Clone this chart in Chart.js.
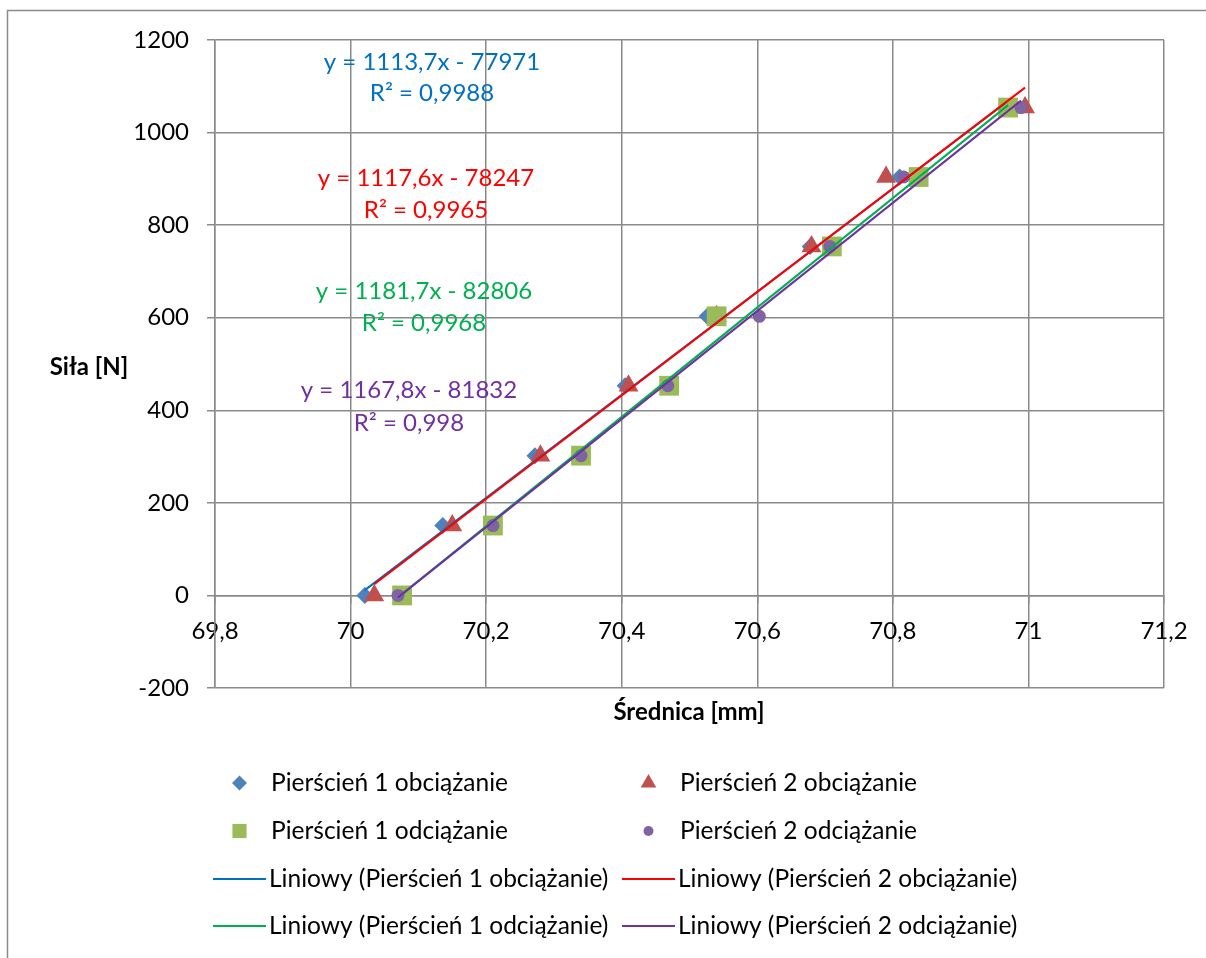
<!DOCTYPE html>
<html>
<head>
<meta charset="utf-8">
<script src="https://cdn.jsdelivr.net/npm/chart.js@4/dist/chart.umd.min.js"></script>
<style>
html,body{margin:0;padding:0;background:#fff;}
#wrap{width:1206px;height:958px;position:relative;}
canvas{display:block;}
</style>
</head>
<body>
<div id="wrap"><canvas id="c" width="1206" height="958"></canvas></div>
<script>
// ---- data ----
const forces = [0, 151, 302, 453, 603, 754, 904, 1054];
const ring1Load   = [70.021, 70.136, 70.272, 70.405, 70.526, 70.678, 70.810, 70.968];
const ring2Load   = [70.035, 70.150, 70.280, 70.410, 70.540, 70.680, 70.790, 70.995];
const ring1Unload = [70.076, 70.210, 70.340, 70.470, 70.540, 70.710, 70.838, 70.970];
const ring2Unload = [70.070, 70.210, 70.340, 70.468, 70.603, 70.707, 70.816, 70.989];
const seriesNames = ['Pierścień 1 obciążanie', 'Pierścień 2 obciążanie', 'Pierścień 1 odciążanie', 'Pierścień 2 odciążanie'];
const trendSlopes = [1113.7, 1117.6, 1181.7, 1167.8];
const trendIntercepts = [-77971, -78247, -82806, -81832];
const trendR2 = ['0,9988', '0,9965', '0,9968', '0,998'];
const xTickLabels = ['69,8', '70', '70,2', '70,4', '70,6', '70,8', '71', '71,2'];
const yTickLabels = ['-200', '0', '200', '400', '600', '800', '1000', '1200'];
const xTitle = 'Średnica [mm]';
const yTitle = 'Siła [N]';

// ---- styles ----
const FONT = 'Lato, "Open Sans", sans-serif';
const FS = 24;
const LEG_FS = 24.5;
const GRID = '#8a8a8a';
const markerColors = ['#4F81BD', '#C0504D', '#9BBB59', '#8064A2'];
const markerStyles = ['rectRot', 'triangle', 'rect', 'circle'];
const markerRadii = [8.5, 11.5, 14, 6.5];
const trendColors = ['#0070C0', '#FF0000', '#00B050', '#7030A0'];
const eqPos = [[432, 62, 93], [426, 178, 210], [424, 291, 323], [409, 390, 423]];

const seriesX = [ring1Load, ring2Load, ring1Unload, ring2Unload];

const datasets = [];
seriesX.forEach((xs, i) => {
  datasets.push({
    type: 'scatter',
    label: seriesNames[i],
    data: xs.map((x, k) => ({x: x, y: forces[k]})),
    pointStyle: markerStyles[i],
    pointRadius: markerRadii[i],
    backgroundColor: markerColors[i],
    borderColor: markerColors[i],
    borderWidth: 0,
    order: 8 - i
  });
});
seriesX.forEach((xs, i) => {
  const xmin = Math.min(...xs), xmax = Math.max(...xs);
  datasets.push({
    type: 'scatter',
    label: 'Liniowy (' + seriesNames[i] + ')',
    data: [xmin, xmax].map(x => ({x: x, y: trendSlopes[i] * x + trendIntercepts[i]})),
    showLine: true,
    pointRadius: 0,
    borderColor: trendColors[i],
    backgroundColor: trendColors[i],
    borderWidth: 2,
    order: 4 - i
  });
});

function fmt(n) { return n.toFixed(1).replace('.', ','); }

function drawMarker(ctx, style, x, y, r, color) {
  ctx.save();
  ctx.fillStyle = color;
  ctx.beginPath();
  if (style === 'rectRot') {
    ctx.moveTo(x, y - r); ctx.lineTo(x + r, y); ctx.lineTo(x, y + r); ctx.lineTo(x - r, y);
  } else if (style === 'triangle') {
    const h = r * 0.866;
    ctx.moveTo(x, y - r); ctx.lineTo(x + h, y + r / 2); ctx.lineTo(x - h, y + r / 2);
  } else if (style === 'rect') {
    const s = r * Math.SQRT1_2;
    ctx.rect(x - s, y - s, 2 * s, 2 * s);
  } else {
    ctx.arc(x, y, r, 0, Math.PI * 2);
  }
  ctx.closePath();
  ctx.fill();
  ctx.restore();
}

const decor = {
  id: 'decor',
  beforeDraw(chart) {
    const ctx = chart.ctx;
    ctx.save();
    ctx.fillStyle = '#fff';
    ctx.fillRect(0, 0, chart.width, chart.height);
    ctx.strokeStyle = GRID;
    ctx.lineWidth = 1.5;
    ctx.strokeRect(7.5, 10.5, 1210, 960);
    ctx.restore();
  },
  afterDraw(chart) {
    const ctx = chart.ctx;
    ctx.save();
    // equations
    ctx.textAlign = 'center';
    ctx.textBaseline = 'middle';
    ctx.font = FS + 'px ' + FONT;
    for (let i = 0; i < 4; i++) {
      ctx.fillStyle = trendColors[i];
      const p = eqPos[i];
      ctx.fillText('y = ' + fmt(trendSlopes[i]) + 'x - ' + Math.abs(trendIntercepts[i]), p[0], p[1]);
      ctx.fillText('R² = ' + trendR2[i], p[0], p[2]);
    }
    // axis titles
    ctx.fillStyle = '#000';
    ctx.font = 'bold ' + FS + 'px ' + FONT;
    ctx.fillText(yTitle, 89, 367);
    ctx.fillText(xTitle, 689, 712);
    // legend
    ctx.font = LEG_FS + 'px ' + FONT;
    ctx.textAlign = 'left';
    const rows = [783, 831, 879, 926];
    const colLine = [[213, 266], [622, 675]];
    const legR = [7.5, 9, 10, 5];
    for (let i = 0; i < 8; i++) {
      const row = Math.floor(i / 2), col = i % 2;
      const y = rows[row];
      const [x0, x1] = colLine[col];
      if (i < 4) {
        drawMarker(ctx, markerStyles[i], (x0 + x1) / 2, y, legR[i], markerColors[i]);
        ctx.fillStyle = '#000';
        ctx.fillText(seriesNames[i], x1 + 5, y);
      } else {
        const k = i - 4;
        ctx.strokeStyle = trendColors[k];
        ctx.lineWidth = 2;
        ctx.beginPath(); ctx.moveTo(x0, y); ctx.lineTo(x1, y); ctx.stroke();
        ctx.fillStyle = '#000';
        ctx.fillText('Liniowy (' + seriesNames[k] + ')', x1 + 3, y);
      }
    }
    ctx.restore();
  }
};

new Chart(document.getElementById('c'), {
  type: 'scatter',
  data: {datasets: datasets},
  options: {
    responsive: false,
    animation: false,
    devicePixelRatio: 1,
    layout: {padding: {left: 0, top: 40, right: 42, bottom: 270}},
    plugins: {legend: {display: false}, tooltip: {enabled: false}},
    scales: {
      x: {
        type: 'linear',
        position: {y: 0},
        min: 69.8, max: 71.2,
        ticks: {
          stepSize: 0.2, autoSkip: false, maxRotation: 0, color: '#000',
          font: {family: FONT, size: FS}, padding: 14,
          callback: (v, i) => xTickLabels[i]
        },
        grid: {color: GRID, lineWidth: 1.5, tickLength: 7},
        border: {color: GRID, width: 1.5}
      },
      y: {
        type: 'linear',
        min: -200, max: 1200,
        ticks: {
          stepSize: 200, color: '#000',
          font: {family: FONT, size: FS}, padding: 18,
          callback: (v, i) => yTickLabels[i]
        },
        grid: {color: GRID, lineWidth: 1.5, tickLength: 8},
        border: {color: GRID, width: 1.5},
        afterFit: s => { s.width = 215; }
      }
    }
  },
  plugins: [decor]
});
</script>
</body>
</html>
